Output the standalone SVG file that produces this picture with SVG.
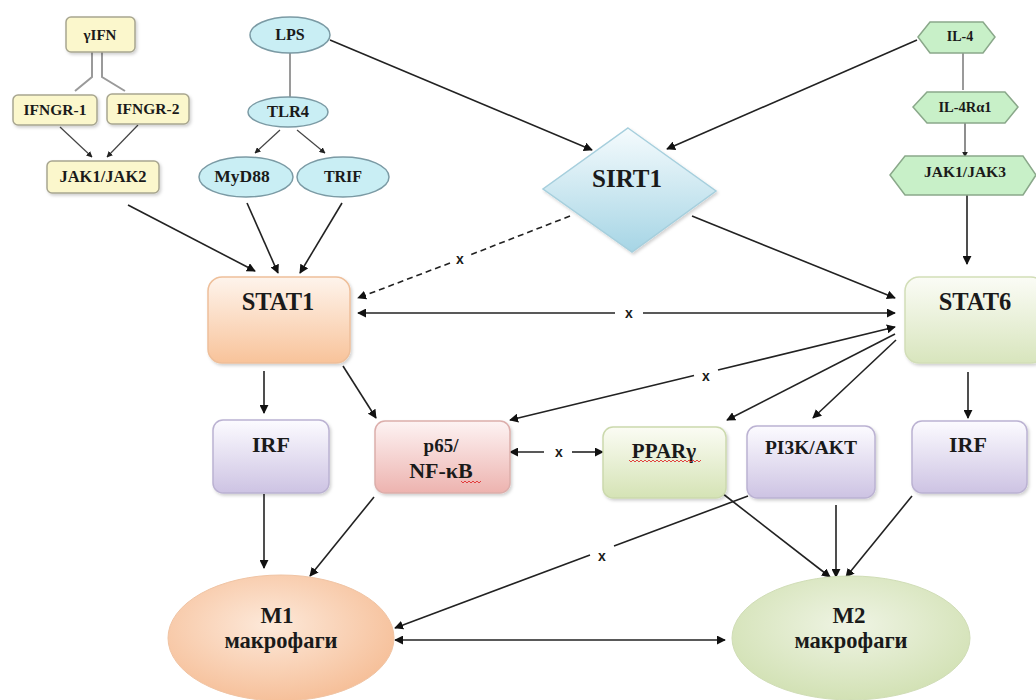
<svg xmlns="http://www.w3.org/2000/svg" width="1036" height="700" viewBox="0 0 1036 700">
<defs>
<style>
.t{font-family:"Liberation Serif","Times New Roman",serif;font-weight:bold;fill:#1a1a1a;text-anchor:middle}
.x{font-family:"Liberation Sans",Arial,sans-serif;font-weight:bold;font-size:14px;fill:#1a1a1a;text-anchor:middle}
.y{fill:#fbf7cc;stroke:#a8a690;stroke-width:1.5}
.c{fill:#c9eef4;stroke:#7b9aa4;stroke-width:1.5}
.g{fill:#c8f0c8;stroke:#8aa88a;stroke-width:1.5}
.ln{fill:none;stroke:#222;stroke-width:1.6}
.gr{fill:none;stroke:#9a9a9a;stroke-width:2}
.th{fill:none;stroke:#444;stroke-width:1.2}
.wv{fill:none;stroke:#e03030;stroke-width:0.9}
</style>
<marker id="a" viewBox="0 0 10 10" refX="9" refY="5" markerWidth="9" markerHeight="9" markerUnits="userSpaceOnUse" orient="auto-start-reverse"><path d="M0,0 L10,5 L0,10 z" fill="#111"/></marker>
<marker id="s" viewBox="0 0 10 10" refX="9" refY="5" markerWidth="6" markerHeight="6" markerUnits="userSpaceOnUse" orient="auto-start-reverse"><path d="M0,0 L10,5 L0,10 z" fill="#222"/></marker>
<linearGradient id="gStat1" x1="0" y1="0" x2="0" y2="1"><stop offset="0" stop-color="#fef4ec"/><stop offset="1" stop-color="#f8c39a"/></linearGradient>
<linearGradient id="gStat6" x1="0" y1="0" x2="0" y2="1"><stop offset="0" stop-color="#fbfcf6"/><stop offset="1" stop-color="#d8e5bd"/></linearGradient>
<linearGradient id="gIrf" x1="0" y1="0" x2="0" y2="1"><stop offset="0" stop-color="#fcfbff"/><stop offset="1" stop-color="#cdc3e3"/></linearGradient>
<linearGradient id="gP65" x1="0" y1="0" x2="0" y2="1"><stop offset="0" stop-color="#fdf3f3"/><stop offset="1" stop-color="#edb3af"/></linearGradient>
<linearGradient id="gPpar" x1="0" y1="0" x2="0" y2="1"><stop offset="0" stop-color="#fbfcf4"/><stop offset="1" stop-color="#d5e3b5"/></linearGradient>
<linearGradient id="gSirt" x1="0" y1="0" x2="0" y2="1"><stop offset="0" stop-color="#f5fbfd"/><stop offset="1" stop-color="#a6d5e5"/></linearGradient>
<radialGradient id="gM1" cx="0.45" cy="0.4" r="0.6"><stop offset="0" stop-color="#fde9da"/><stop offset="1" stop-color="#f6c09a"/></radialGradient>
<radialGradient id="gM2" cx="0.5" cy="0.4" r="0.6"><stop offset="0" stop-color="#eff4e4"/><stop offset="1" stop-color="#d2e1b4"/></radialGradient>
<filter id="sh" x="-10%" y="-10%" width="125%" height="130%"><feDropShadow dx="1.5" dy="2" stdDeviation="1.5" flood-color="#000" flood-opacity="0.18"/></filter>
</defs>
<rect width="1036" height="700" fill="#ffffff"/>

<g id="connectors">
<path class="gr" d="M92,52 V77 L75,91"/>
<path class="gr" d="M102,52 V77 L125,91"/>
<path class="th" d="M60,127 L92,157" marker-end="url(#s)"/>
<path class="th" d="M138,125 L107,157" marker-end="url(#s)"/>
<path class="gr" d="M290,53 V97"/>
<path class="th" d="M280,130 L255,153" marker-end="url(#s)"/>
<path class="th" d="M297,130 L325,153" marker-end="url(#s)"/>
<path class="gr" d="M963,53 V90"/>
<path class="th" d="M965,123 V157" marker-end="url(#s)"/>
<path class="ln" d="M128,205 L255,271" marker-end="url(#a)"/>
<path class="ln" d="M247,203 L278,273" marker-end="url(#a)"/>
<path class="ln" d="M342,203 L300,273" marker-end="url(#a)"/>
<path class="ln" d="M330,40 L592,150" marker-end="url(#a)"/>
<path class="ln" d="M917,40 L667,149" marker-end="url(#a)"/>
<path class="ln" d="M967,195 V264" marker-end="url(#a)"/>
<path class="ln" d="M570,216 L470,255" stroke-dasharray="6,4"/>
<path class="ln" d="M450,263 L358,298" stroke-dasharray="6,4" marker-end="url(#a)"/>
<path class="ln" d="M692,216 L895,298" marker-end="url(#a)"/>
<path class="ln" d="M615,313 H358" marker-end="url(#a)"/>
<path class="ln" d="M643,313 H895" marker-end="url(#a)"/>
<path class="ln" d="M264,371 V413" marker-end="url(#a)"/>
<path class="ln" d="M343,366 L376,418" marker-end="url(#a)"/>
<path class="ln" d="M694,375.5 L510,420" marker-end="url(#a)"/>
<path class="ln" d="M718,370 L895,327" marker-end="url(#a)"/>
<path class="ln" d="M895,334 L727,420" marker-end="url(#a)"/>
<path class="ln" d="M896,340 L813,418" marker-end="url(#a)"/>
<path class="ln" d="M544,452 H510" marker-end="url(#a)"/>
<path class="ln" d="M572,452 H603" marker-end="url(#a)"/>
<path class="ln" d="M968,372 V418" marker-end="url(#a)"/>
<path class="ln" d="M264,494 V568" marker-end="url(#a)"/>
<path class="ln" d="M374,497 L310,576" marker-end="url(#a)"/>
<path class="ln" d="M748,496 L614,546"/>
<path class="ln" d="M590,555 L395,628" marker-end="url(#a)"/>
<path class="ln" d="M718,490 L830,577" marker-end="url(#a)"/>
<path class="ln" d="M836,505 V577" marker-end="url(#a)"/>
<path class="ln" d="M912,496 L846,577" marker-end="url(#a)"/>
<path class="ln" d="M395,640 H725" marker-start="url(#a)" marker-end="url(#a)"/>
<text class="x" x="460" y="264">x</text>
<text class="x" x="629" y="318">x</text>
<text class="x" x="706" y="381">x</text>
<text class="x" x="559" y="457">x</text>
<text class="x" x="602" y="561">x</text>
</g>

<g id="n-gifn"><rect class="y" x="66" y="17" width="69" height="35" rx="5" filter="url(#sh)"/><text class="t" x="100" y="40" font-size="15">γIFN</text></g>
<g id="n-ifngr1"><rect class="y" x="13" y="95" width="84" height="30" rx="5" filter="url(#sh)"/><text class="t" x="55" y="115" font-size="15.5">IFNGR-1</text></g>
<g id="n-ifngr2"><rect class="y" x="107" y="94" width="82" height="30" rx="5" filter="url(#sh)"/><text class="t" x="148" y="114" font-size="15.5">IFNGR-2</text></g>
<g id="n-jak12"><rect class="y" x="47" y="161" width="112" height="32" rx="5" filter="url(#sh)"/><text class="t" x="103" y="182" font-size="16.5">JAK1/JAK2</text></g>

<g id="n-lps"><ellipse class="c" cx="290" cy="35" rx="40" ry="18"/><text class="t" x="290" y="40" font-size="16">LPS</text></g>
<g id="n-tlr4"><ellipse class="c" cx="288" cy="112" rx="40" ry="15"/><text class="t" x="288" y="117" font-size="16.5">TLR4</text></g>
<g id="n-myd88"><ellipse class="c" cx="246" cy="177" rx="47" ry="20"/><text class="t" x="242" y="182" font-size="17.5">MyD88</text></g>
<g id="n-trif"><ellipse class="c" cx="343" cy="177" rx="46" ry="20"/><text class="t" x="343" y="182" font-size="16">TRIF</text></g>

<g id="n-il4"><polygon class="g" points="918,37 930,22 983,22 995,37 983,53 930,53"/><text class="t" x="960" y="41" font-size="14">IL-4</text></g>
<g id="n-il4ra"><polygon class="g" points="913,107 927,92 1005,92 1018,107 1005,123 927,123"/><text class="t" x="965" y="112" font-size="14.5">IL-4Rα1</text></g>
<g id="n-jak13"><polygon class="g" points="890,175 905,156 1023,156 1036,175 1023,195 905,195"/><text class="t" x="965" y="177" font-size="15.5">JAK1/JAK3</text></g>

<g id="n-sirt1"><polygon points="628,128 716,191 632,252 543,189" fill="url(#gSirt)" stroke="#a6cfdd" stroke-width="1.5" filter="url(#sh)"/><text class="t" x="627" y="187" font-size="25">SIRT1</text></g>

<g id="n-stat1"><rect x="208" y="277" width="142" height="86" rx="14" fill="url(#gStat1)" stroke="#eebf9a" stroke-width="1.5" filter="url(#sh)"/><text class="t" x="278" y="310" font-size="24.5">STAT1</text></g>
<g id="n-stat6"><rect x="905" y="277" width="140" height="86" rx="14" fill="url(#gStat6)" stroke="#d2deb8" stroke-width="1.5" filter="url(#sh)"/><text class="t" x="975" y="310" font-size="24.5">STAT6</text></g>

<g id="n-irf1"><rect x="213" y="420" width="116" height="73" rx="10" fill="url(#gIrf)" stroke="#bbb2d2" stroke-width="1.5" filter="url(#sh)"/><text class="t" x="271" y="452" font-size="22">IRF</text></g>
<g id="n-p65"><rect x="375" y="421" width="135" height="72" rx="10" fill="url(#gP65)" stroke="#dcaeab" stroke-width="1.5" filter="url(#sh)"/><text class="t" x="441" y="452" font-size="19">p65/</text><text class="t" x="441" y="478" font-size="22">NF-κB</text><path class="wv" d="M461,481 l2,2 l2,-2 l2,2 l2,-2 l2,2 l2,-2 l2,2 l2,-2 l2,2 l2,-2"/></g>
<g id="n-ppar"><rect x="603" y="427" width="123" height="71" rx="10" fill="url(#gPpar)" stroke="#cbd9ad" stroke-width="1.5" filter="url(#sh)"/><text class="t" x="664" y="458" font-size="21">PPARγ</text><path class="wv" d="M629,460 l2,2 l2,-2 l2,2 l2,-2 l2,2 l2,-2 l2,2 l2,-2 l2,2 l2,-2 l2,2 l2,-2 l2,2 l2,-2 l2,2 l2,-2 l2,2 l2,-2 l2,2 l2,-2 l2,2 l2,-2 l2,2 l2,-2 l2,2 l2,-2 l2,2 l2,-2 l2,2 l2,-2 l2,2 l2,-2 l2,2 l2,-2 l2,2 l2,-2"/></g>
<g id="n-pi3k"><rect x="747" y="426" width="128" height="72" rx="10" fill="url(#gIrf)" stroke="#bbb2d2" stroke-width="1.5" filter="url(#sh)"/><text class="t" x="811" y="454" font-size="19.5">PI3K/AKT</text></g>
<g id="n-irf2"><rect x="912" y="421" width="115" height="72" rx="10" fill="url(#gIrf)" stroke="#bbb2d2" stroke-width="1.5" filter="url(#sh)"/><text class="t" x="968" y="452" font-size="22">IRF</text></g>

<g id="n-m1"><ellipse cx="281" cy="638" rx="113" ry="63" fill="url(#gM1)" stroke="#f0c4a4" stroke-width="1"/><text class="t" x="277" y="623" font-size="23">M1</text><text class="t" x="281" y="648" font-size="22.5">макрофаги</text></g>
<g id="n-m2"><ellipse cx="851" cy="638" rx="119" ry="62" fill="url(#gM2)" stroke="#d0ddb6" stroke-width="1"/><text class="t" x="849" y="623" font-size="23">M2</text><text class="t" x="851" y="648" font-size="22.5">макрофаги</text></g>
</svg>
